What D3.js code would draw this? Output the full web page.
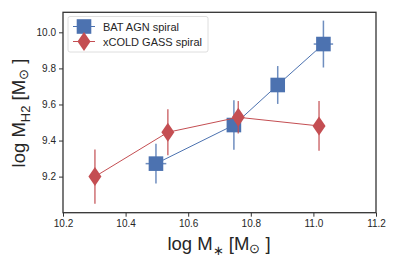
<!DOCTYPE html>
<html><head><meta charset="utf-8">
<script src="https://cdn.jsdelivr.net/npm/d3@7"></script>
<style>body{margin:0;background:#fff}svg{display:block}text{font-family:"Liberation Sans",Arial,sans-serif}</style>
</head><body><svg id="c" width="398" height="265"></svg>
<script>
const batX = [10.497, 10.746, 10.886, 11.032];
const batY = [9.272, 9.486, 9.708, 9.935];
const batYErr = [0.11, 0.137, 0.105, 0.13];
const batXErr = [0.033, 0.02, 0.015, 0.031];
const xcgX = [10.302, 10.535, 10.760, 11.018];
const xcgY = [9.200, 9.446, 9.529, 9.481];
const xcgYErr = [0.15, 0.127, 0.09, 0.138];
const xTicks = [10.2, 10.4, 10.6, 10.8, 11.0, 11.2];
const yTicks = [9.2, 9.4, 9.6, 9.8, 10.0];
const seriesNames = ["BAT AGN spiral", "xCOLD GASS spiral"];
const blue = "#4c72b0", red = "#c44e52";

const svg = d3.select("#c");
const L = 63, R = 376, T = 12.3, B = 212.7;
const x = d3.scaleLinear().domain([10.2, 11.2]).range([L, R]);
const y = d3.scaleLinear().domain([9.0, 10.111]).range([B, T]);

const xa = svg.append("g").attr("transform", `translate(0,${B})`)
  .call(d3.axisBottom(x).tickValues(xTicks).tickFormat(d3.format(".1f")).tickSizeOuter(0).tickSize(4).tickPadding(3));
const ya = svg.append("g").attr("transform", `translate(${L},0)`)
  .call(d3.axisLeft(y).tickValues(yTicks).tickFormat(d3.format(".1f")).tickSizeOuter(0).tickSize(4).tickPadding(3));
[xa, ya].forEach(a => {
  a.select(".domain").remove();
  a.selectAll("line").attr("stroke", "#333").attr("stroke-width", 1);
  a.selectAll("text").attr("fill", "#262626").style("font-size", "10px");
});
svg.append("rect").attr("x", L).attr("y", T).attr("width", R - L).attr("height", B - T)
  .attr("fill", "none").attr("stroke", "#333").attr("stroke-width", 1.3);

const bat = batX.map((v, i) => ({x: v, y: batY[i], ye: batYErr[i], xe: batXErr[i]}));
const xcg = xcgX.map((v, i) => ({x: v, y: xcgY[i], ye: xcgYErr[i]}));
const line = d3.line().x(d => x(d.x)).y(d => y(d.y));

function drawSeries(data, color, marker) {
  const g = svg.append("g");
  g.selectAll(".ey").data(data).join("line")
    .attr("x1", d => x(d.x)).attr("x2", d => x(d.x))
    .attr("y1", d => y(d.y - d.ye)).attr("y2", d => y(d.y + d.ye))
    .attr("stroke", color).attr("stroke-width", 1.5).attr("opacity", 0.8);
  g.selectAll(".ex").data(data.filter(d => d.xe)).join("line")
    .attr("x1", d => x(d.x - d.xe)).attr("x2", d => x(d.x + d.xe))
    .attr("y1", d => y(d.y)).attr("y2", d => y(d.y))
    .attr("stroke", color).attr("stroke-width", 1.5).attr("opacity", 0.8);
  g.append("path").datum(data).attr("d", line).attr("fill", "none").attr("stroke", color).attr("stroke-width", 1);
  if (marker === "square") {
    g.selectAll(".m").data(data).join("rect")
      .attr("x", d => x(d.x) - 7.3).attr("y", d => y(d.y) - 7.3).attr("width", 14.6).attr("height", 14.6)
      .attr("fill", color);
  } else {
    g.selectAll(".m").data(data).join("path")
      .attr("transform", d => `translate(${x(d.x)},${y(d.y)})`)
      .attr("d", "M0,-9.5L6.5,0L0,9.5L-6.5,0Z").attr("fill", color);
  }
}
drawSeries(bat, blue, "square");
drawSeries(xcg, red, "diamond");

const lg = svg.append("g");
lg.append("rect").attr("x", 68).attr("y", 16.5).attr("width", 140).attr("height", 35.5).attr("rx", 2)
  .attr("fill", "#fff").attr("fill-opacity", 0.8).attr("stroke", "#d6d6d6").attr("stroke-width", 0.8);
[[blue, "square"], [red, "diamond"]].forEach(([c, m], i) => {
  const yy = 26.5 + i * 15;
  lg.append("line").attr("x1", 73).attr("x2", 95).attr("y1", yy).attr("y2", yy).attr("stroke", c).attr("stroke-width", 1);
  if (m === "square") lg.append("rect").attr("x", 84 - 7.3).attr("y", yy - 7.3).attr("width", 14.6).attr("height", 14.6).attr("fill", c);
  else lg.append("path").attr("transform", `translate(84,${yy})`).attr("d", "M0,-9.5L6.5,0L0,9.5L-6.5,0Z").attr("fill", c);
  lg.append("text").attr("x", 103).attr("y", yy + 4).text(seriesNames[i]).style("font-size", "11px").attr("fill", "#262626");
});

const xl = svg.append("text").attr("x", 219).attr("y", 250).attr("text-anchor", "middle").attr("fill", "#262626").style("font-size", "18.5px");
xl.append("tspan").text("log M");
xl.append("tspan").text("∗").attr("dy", 5).style("font-size", "13px");
xl.append("tspan").text(" [M").attr("dy", -5);
xl.append("tspan").text("⊙").attr("dy", 3).style("font-size", "13px");
xl.append("tspan").text(" ]").attr("dy", -3);

const yl = svg.append("text").attr("transform", "translate(25,113) rotate(-90)").attr("text-anchor", "middle").attr("fill", "#262626").style("font-size", "18.5px");
yl.append("tspan").text("log M");
yl.append("tspan").text("H2").attr("dy", 5).style("font-size", "13px");
yl.append("tspan").text(" [M").attr("dy", -5);
yl.append("tspan").text("⊙").attr("dy", 3).style("font-size", "13px");
yl.append("tspan").text(" ]").attr("dy", -3);
</script></body></html>
